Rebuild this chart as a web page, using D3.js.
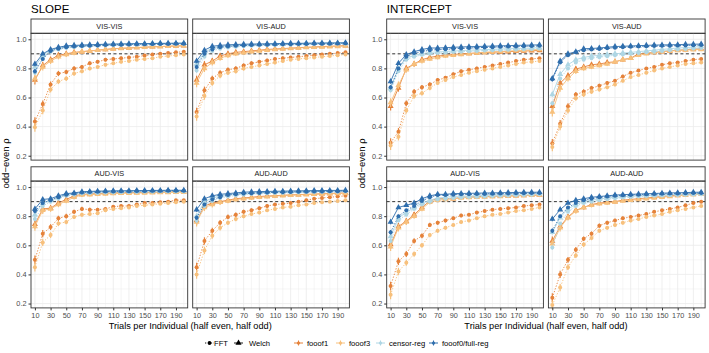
<!DOCTYPE html>
<html>
<head>
<meta charset="utf-8">
<script src="https://cdn.jsdelivr.net/npm/d3@7"></script>
<style>
  body { margin: 0; background: #fff; }
  svg { display: block; font-family: "Liberation Sans", Arial, Helvetica, sans-serif; }
</style>
</head>
<body>
<svg id="chart" width="709" height="353"></svg>
<script>
// ---- data ----
const trials = [10, 20, 30, 40, 50, 60, 70, 80, 90, 100, 110, 120, 130, 140, 150, 160, 170, 180, 190, 200];
const measures = ["SLOPE", "INTERCEPT"];
const conditions = ["VIS-VIS", "VIS-AUD", "AUD-VIS", "AUD-AUD"];
const methods = ["fooof1", "fooof3", "censor-reg", "fooof0/full-reg"];
const spectra = ["FFT", "Welch"];
const xTicks = [10, 30, 50, 70, 90, 110, 130, 150, 170, 190];
const yTicks = [0.2, 0.4, 0.6, 0.8, 1.0];
const refLine = 0.9;

// half-width of the error bars
const errWide = [0.03, 0.025, 0.02, 0.018, 0.016, 0.015, 0.014, 0.013, 0.012, 0.012, 0.011, 0.011, 0.01, 0.01, 0.01, 0.009, 0.009, 0.009, 0.008, 0.008];
const errNarrow = [0.015, 0.01, 0.008, 0.007, 0.006, 0.006, 0.005, 0.005, 0.005, 0.005, 0.005, 0.004, 0.004, 0.004, 0.004, 0.004, 0.004, 0.004, 0.004, 0.004];

// SLOPE  VIS-VIS
const sVV_f1_fft = [0.435, 0.555, 0.69, 0.765, 0.775, 0.8, 0.81, 0.835, 0.845, 0.86, 0.865, 0.87, 0.875, 0.88, 0.888, 0.895, 0.9, 0.905, 0.91, 0.915];
const sVV_f1_wel = [0.72, 0.82, 0.86, 0.89, 0.9, 0.91, 0.915, 0.92, 0.925, 0.93, 0.935, 0.938, 0.94, 0.943, 0.945, 0.948, 0.95, 0.952, 0.954, 0.955];
const sVV_f3_fft = [0.395, 0.51, 0.655, 0.71, 0.73, 0.765, 0.78, 0.8, 0.81, 0.825, 0.835, 0.845, 0.85, 0.86, 0.865, 0.87, 0.88, 0.885, 0.89, 0.895];
const sVV_f3_wel = [0.73, 0.81, 0.85, 0.88, 0.895, 0.905, 0.915, 0.92, 0.925, 0.93, 0.934, 0.937, 0.94, 0.943, 0.945, 0.948, 0.95, 0.952, 0.954, 0.956];
const sVV_cr_fft = [0.77, 0.87, 0.915, 0.93, 0.94, 0.945, 0.95, 0.953, 0.955, 0.957, 0.959, 0.961, 0.962, 0.963, 0.964, 0.965, 0.966, 0.967, 0.968, 0.968];
const sVV_cr_wel = [0.81, 0.89, 0.925, 0.94, 0.95, 0.955, 0.958, 0.96, 0.962, 0.964, 0.966, 0.967, 0.968, 0.969, 0.97, 0.971, 0.972, 0.972, 0.973, 0.974];
const sVV_f0_fft = [0.78, 0.865, 0.92, 0.935, 0.945, 0.95, 0.953, 0.956, 0.958, 0.96, 0.962, 0.963, 0.964, 0.965, 0.966, 0.967, 0.968, 0.968, 0.969, 0.97];
const sVV_f0_wel = [0.83, 0.9, 0.93, 0.945, 0.955, 0.958, 0.96, 0.962, 0.964, 0.966, 0.967, 0.968, 0.969, 0.97, 0.97, 0.971, 0.972, 0.972, 0.973, 0.973];

// SLOPE  VIS-AUD
const sVA_f1_fft = [0.5, 0.65, 0.73, 0.77, 0.79, 0.8, 0.82, 0.835, 0.845, 0.855, 0.865, 0.87, 0.875, 0.88, 0.885, 0.89, 0.895, 0.9, 0.905, 0.91];
const sVA_f1_wel = [0.72, 0.825, 0.85, 0.885, 0.9, 0.91, 0.915, 0.92, 0.925, 0.93, 0.933, 0.936, 0.939, 0.942, 0.945, 0.947, 0.95, 0.952, 0.954, 0.956];
const sVA_f3_fft = [0.47, 0.61, 0.7, 0.75, 0.77, 0.78, 0.8, 0.81, 0.82, 0.83, 0.84, 0.85, 0.86, 0.865, 0.87, 0.875, 0.88, 0.885, 0.89, 0.895];
const sVA_f3_wel = [0.7, 0.8, 0.84, 0.87, 0.888, 0.9, 0.907, 0.914, 0.92, 0.925, 0.93, 0.933, 0.936, 0.94, 0.943, 0.945, 0.947, 0.949, 0.951, 0.953];
const sVA_cr_fft = [0.785, 0.88, 0.92, 0.935, 0.943, 0.948, 0.952, 0.955, 0.957, 0.959, 0.961, 0.962, 0.963, 0.964, 0.965, 0.966, 0.967, 0.968, 0.969, 0.97];
const sVA_cr_wel = [0.83, 0.91, 0.94, 0.95, 0.955, 0.958, 0.96, 0.962, 0.964, 0.966, 0.967, 0.968, 0.969, 0.97, 0.971, 0.972, 0.973, 0.974, 0.975, 0.975];
const sVA_f0_fft = [0.81, 0.9, 0.93, 0.945, 0.95, 0.955, 0.958, 0.96, 0.962, 0.963, 0.964, 0.965, 0.966, 0.967, 0.968, 0.969, 0.97, 0.97, 0.971, 0.972];
const sVA_f0_wel = [0.85, 0.925, 0.952, 0.958, 0.962, 0.964, 0.966, 0.967, 0.968, 0.969, 0.97, 0.971, 0.972, 0.972, 0.973, 0.974, 0.974, 0.975, 0.975, 0.976];

// SLOPE  AUD-VIS
const sAV_f1_fft = [0.5, 0.68, 0.725, 0.785, 0.8, 0.83, 0.85, 0.845, 0.845, 0.85, 0.865, 0.87, 0.87, 0.88, 0.89, 0.89, 0.895, 0.9, 0.91, 0.91];
const sAV_f1_wel = [0.745, 0.85, 0.855, 0.89, 0.915, 0.94, 0.95, 0.953, 0.955, 0.958, 0.96, 0.961, 0.962, 0.963, 0.964, 0.965, 0.966, 0.967, 0.968, 0.969];
const sAV_f3_fft = [0.45, 0.62, 0.67, 0.75, 0.76, 0.795, 0.81, 0.815, 0.82, 0.84, 0.85, 0.855, 0.86, 0.87, 0.875, 0.88, 0.885, 0.89, 0.895, 0.9];
const sAV_f3_wel = [0.73, 0.84, 0.85, 0.88, 0.905, 0.93, 0.945, 0.948, 0.95, 0.953, 0.955, 0.957, 0.958, 0.959, 0.96, 0.961, 0.962, 0.963, 0.964, 0.965];
const sAV_cr_fft = [0.78, 0.87, 0.9, 0.92, 0.94, 0.948, 0.955, 0.958, 0.96, 0.962, 0.963, 0.964, 0.965, 0.966, 0.967, 0.968, 0.969, 0.969, 0.97, 0.97];
const sAV_cr_wel = [0.81, 0.89, 0.91, 0.93, 0.948, 0.955, 0.962, 0.965, 0.967, 0.968, 0.969, 0.97, 0.971, 0.972, 0.972, 0.973, 0.974, 0.974, 0.975, 0.975];
const sAV_f0_fft = [0.835, 0.89, 0.91, 0.93, 0.948, 0.955, 0.963, 0.966, 0.968, 0.969, 0.97, 0.971, 0.972, 0.973, 0.973, 0.974, 0.974, 0.975, 0.975, 0.975];
const sAV_f0_wel = [0.85, 0.915, 0.92, 0.94, 0.955, 0.96, 0.968, 0.97, 0.972, 0.973, 0.974, 0.975, 0.975, 0.976, 0.976, 0.977, 0.977, 0.978, 0.978, 0.978];

// SLOPE  AUD-AUD
const sAA_f1_fft = [0.45, 0.63, 0.7, 0.755, 0.795, 0.81, 0.83, 0.84, 0.855, 0.87, 0.88, 0.885, 0.89, 0.9, 0.91, 0.92, 0.925, 0.93, 0.935, 0.94];
const sAA_f1_wel = [0.77, 0.87, 0.89, 0.9, 0.91, 0.92, 0.925, 0.93, 0.935, 0.938, 0.941, 0.944, 0.946, 0.948, 0.95, 0.952, 0.954, 0.956, 0.958, 0.96];
const sAA_f3_fft = [0.4, 0.565, 0.665, 0.72, 0.755, 0.78, 0.8, 0.815, 0.825, 0.84, 0.85, 0.86, 0.865, 0.875, 0.88, 0.89, 0.895, 0.9, 0.905, 0.91];
const sAA_f3_wel = [0.76, 0.86, 0.88, 0.895, 0.905, 0.915, 0.92, 0.925, 0.93, 0.934, 0.938, 0.941, 0.944, 0.946, 0.948, 0.95, 0.952, 0.954, 0.956, 0.958];
const sAA_cr_fft = [0.77, 0.87, 0.905, 0.925, 0.935, 0.942, 0.948, 0.952, 0.955, 0.957, 0.959, 0.96, 0.962, 0.963, 0.964, 0.965, 0.966, 0.967, 0.968, 0.969];
const sAA_cr_wel = [0.8, 0.9, 0.925, 0.94, 0.948, 0.953, 0.957, 0.96, 0.962, 0.964, 0.966, 0.967, 0.968, 0.969, 0.97, 0.971, 0.972, 0.973, 0.974, 0.975];
const sAA_f0_fft = [0.79, 0.88, 0.915, 0.93, 0.945, 0.95, 0.955, 0.958, 0.96, 0.962, 0.964, 0.965, 0.966, 0.967, 0.968, 0.969, 0.97, 0.971, 0.972, 0.973];
const sAA_f0_wel = [0.845, 0.92, 0.94, 0.95, 0.955, 0.96, 0.965, 0.967, 0.969, 0.97, 0.971, 0.972, 0.973, 0.974, 0.975, 0.976, 0.976, 0.977, 0.977, 0.978];

// INTERCEPT  VIS-VIS
const iVV_f1_fft = [0.29, 0.365, 0.56, 0.64, 0.67, 0.69, 0.72, 0.735, 0.76, 0.78, 0.79, 0.8, 0.81, 0.82, 0.83, 0.84, 0.85, 0.86, 0.865, 0.87];
const iVV_f1_wel = [0.54, 0.665, 0.8, 0.83, 0.86, 0.875, 0.885, 0.89, 0.895, 0.9, 0.903, 0.906, 0.909, 0.911, 0.913, 0.915, 0.917, 0.919, 0.921, 0.923];
const iVV_f3_fft = [0.27, 0.33, 0.51, 0.61, 0.63, 0.665, 0.7, 0.72, 0.74, 0.755, 0.77, 0.78, 0.79, 0.8, 0.81, 0.82, 0.83, 0.84, 0.845, 0.85];
const iVV_f3_wel = [0.565, 0.685, 0.79, 0.83, 0.85, 0.865, 0.875, 0.885, 0.89, 0.895, 0.9, 0.905, 0.91, 0.913, 0.916, 0.919, 0.922, 0.925, 0.928, 0.93];
const iVV_cr_fft = [0.65, 0.78, 0.86, 0.88, 0.893, 0.9, 0.905, 0.908, 0.912, 0.915, 0.918, 0.92, 0.922, 0.924, 0.926, 0.928, 0.93, 0.932, 0.934, 0.936];
const iVV_cr_wel = [0.665, 0.8, 0.87, 0.89, 0.9, 0.91, 0.913, 0.916, 0.919, 0.922, 0.925, 0.927, 0.929, 0.931, 0.933, 0.935, 0.937, 0.938, 0.94, 0.942];
const iVV_f0_fft = [0.67, 0.8, 0.88, 0.905, 0.915, 0.925, 0.928, 0.931, 0.934, 0.937, 0.94, 0.942, 0.944, 0.946, 0.948, 0.95, 0.951, 0.952, 0.953, 0.955];
const iVV_f0_wel = [0.71, 0.835, 0.895, 0.915, 0.93, 0.94, 0.94, 0.942, 0.945, 0.947, 0.949, 0.95, 0.952, 0.953, 0.955, 0.956, 0.958, 0.959, 0.96, 0.962];

// INTERCEPT  VIS-AUD
const iVA_f1_fft = [0.285, 0.42, 0.54, 0.62, 0.64, 0.665, 0.68, 0.7, 0.715, 0.745, 0.77, 0.785, 0.8, 0.81, 0.825, 0.835, 0.84, 0.85, 0.86, 0.865];
const iVA_f1_wel = [0.54, 0.7, 0.75, 0.795, 0.81, 0.825, 0.83, 0.84, 0.845, 0.86, 0.87, 0.9, 0.905, 0.91, 0.915, 0.92, 0.925, 0.928, 0.932, 0.935];
const iVA_f3_fft = [0.26, 0.4, 0.51, 0.595, 0.62, 0.64, 0.655, 0.67, 0.69, 0.715, 0.74, 0.755, 0.77, 0.785, 0.8, 0.81, 0.82, 0.83, 0.835, 0.84];
const iVA_f3_wel = [0.5, 0.665, 0.73, 0.78, 0.8, 0.81, 0.82, 0.83, 0.845, 0.86, 0.87, 0.89, 0.9, 0.91, 0.915, 0.92, 0.923, 0.926, 0.928, 0.93];
const iVA_cr_fft = [0.56, 0.73, 0.8, 0.84, 0.86, 0.87, 0.877, 0.884, 0.89, 0.895, 0.9, 0.905, 0.91, 0.915, 0.92, 0.925, 0.93, 0.933, 0.936, 0.94];
const iVA_cr_wel = [0.62, 0.76, 0.825, 0.86, 0.875, 0.885, 0.89, 0.895, 0.9, 0.905, 0.91, 0.915, 0.92, 0.925, 0.93, 0.935, 0.94, 0.943, 0.946, 0.95];
const iVA_f0_fft = [0.725, 0.84, 0.89, 0.91, 0.925, 0.93, 0.934, 0.938, 0.942, 0.945, 0.948, 0.95, 0.952, 0.954, 0.955, 0.956, 0.957, 0.958, 0.959, 0.96];
const iVA_f0_wel = [0.73, 0.85, 0.9, 0.915, 0.935, 0.937, 0.94, 0.945, 0.95, 0.952, 0.954, 0.956, 0.958, 0.96, 0.961, 0.962, 0.963, 0.965, 0.966, 0.967];

// INTERCEPT  AUD-VIS
const iAV_f1_fft = [0.32, 0.49, 0.54, 0.63, 0.665, 0.74, 0.755, 0.77, 0.785, 0.805, 0.81, 0.825, 0.835, 0.845, 0.85, 0.855, 0.86, 0.87, 0.875, 0.88];
const iAV_f1_wel = [0.605, 0.73, 0.765, 0.81, 0.86, 0.905, 0.92, 0.92, 0.92, 0.93, 0.932, 0.934, 0.936, 0.937, 0.938, 0.939, 0.94, 0.942, 0.944, 0.945];
const iAV_f3_fft = [0.26, 0.42, 0.48, 0.54, 0.6, 0.67, 0.7, 0.72, 0.74, 0.76, 0.77, 0.785, 0.8, 0.81, 0.815, 0.825, 0.835, 0.84, 0.85, 0.86];
const iAV_f3_wel = [0.59, 0.72, 0.76, 0.8, 0.85, 0.895, 0.91, 0.915, 0.92, 0.925, 0.928, 0.93, 0.932, 0.934, 0.936, 0.938, 0.94, 0.942, 0.944, 0.945];
const iAV_cr_fft = [0.63, 0.77, 0.81, 0.85, 0.88, 0.9, 0.915, 0.92, 0.925, 0.928, 0.931, 0.934, 0.936, 0.938, 0.94, 0.942, 0.944, 0.946, 0.948, 0.95];
const iAV_cr_wel = [0.66, 0.79, 0.825, 0.86, 0.89, 0.91, 0.925, 0.93, 0.935, 0.937, 0.939, 0.941, 0.943, 0.945, 0.947, 0.949, 0.951, 0.952, 0.954, 0.955];
const iAV_f0_fft = [0.69, 0.8, 0.84, 0.87, 0.905, 0.93, 0.945, 0.945, 0.948, 0.95, 0.951, 0.952, 0.953, 0.954, 0.955, 0.956, 0.957, 0.958, 0.959, 0.96];
const iAV_f0_wel = [0.76, 0.86, 0.875, 0.89, 0.92, 0.94, 0.95, 0.95, 0.955, 0.956, 0.957, 0.958, 0.959, 0.96, 0.961, 0.962, 0.963, 0.964, 0.964, 0.965];

// INTERCEPT  AUD-AUD
const iAA_f1_fft = [0.24, 0.4, 0.5, 0.57, 0.645, 0.68, 0.735, 0.755, 0.77, 0.785, 0.795, 0.805, 0.815, 0.83, 0.84, 0.85, 0.86, 0.875, 0.89, 0.9];
const iAA_f1_wel = [0.63, 0.73, 0.795, 0.84, 0.86, 0.88, 0.89, 0.895, 0.9, 0.91, 0.915, 0.92, 0.925, 0.93, 0.935, 0.94, 0.944, 0.948, 0.952, 0.955];
const iAA_f3_fft = [0.19, 0.31, 0.45, 0.53, 0.605, 0.65, 0.7, 0.72, 0.74, 0.755, 0.77, 0.78, 0.795, 0.805, 0.815, 0.83, 0.84, 0.85, 0.86, 0.87];
const iAA_f3_wel = [0.61, 0.72, 0.79, 0.835, 0.86, 0.875, 0.885, 0.89, 0.897, 0.905, 0.91, 0.915, 0.92, 0.925, 0.93, 0.935, 0.94, 0.944, 0.948, 0.95];
const iAA_cr_fft = [0.585, 0.75, 0.83, 0.87, 0.89, 0.9, 0.91, 0.917, 0.923, 0.928, 0.932, 0.935, 0.938, 0.94, 0.942, 0.944, 0.946, 0.947, 0.949, 0.95];
const iAA_cr_wel = [0.69, 0.79, 0.85, 0.88, 0.9, 0.91, 0.918, 0.925, 0.93, 0.934, 0.937, 0.94, 0.942, 0.944, 0.946, 0.948, 0.95, 0.952, 0.954, 0.955];
const iAA_f0_fft = [0.7, 0.8, 0.86, 0.89, 0.91, 0.92, 0.93, 0.935, 0.94, 0.943, 0.946, 0.948, 0.95, 0.952, 0.954, 0.955, 0.956, 0.958, 0.959, 0.96];
const iAA_f0_wel = [0.78, 0.845, 0.89, 0.91, 0.92, 0.93, 0.935, 0.94, 0.945, 0.948, 0.95, 0.952, 0.954, 0.956, 0.958, 0.96, 0.961, 0.962, 0.964, 0.965];

// lookup: measure -> condition -> [method][spectrum]
const table = {
  SLOPE: {
    "VIS-VIS": [[sVV_f1_fft, sVV_f1_wel], [sVV_f3_fft, sVV_f3_wel], [sVV_cr_fft, sVV_cr_wel], [sVV_f0_fft, sVV_f0_wel]],
    "VIS-AUD": [[sVA_f1_fft, sVA_f1_wel], [sVA_f3_fft, sVA_f3_wel], [sVA_cr_fft, sVA_cr_wel], [sVA_f0_fft, sVA_f0_wel]],
    "AUD-VIS": [[sAV_f1_fft, sAV_f1_wel], [sAV_f3_fft, sAV_f3_wel], [sAV_cr_fft, sAV_cr_wel], [sAV_f0_fft, sAV_f0_wel]],
    "AUD-AUD": [[sAA_f1_fft, sAA_f1_wel], [sAA_f3_fft, sAA_f3_wel], [sAA_cr_fft, sAA_cr_wel], [sAA_f0_fft, sAA_f0_wel]]
  },
  INTERCEPT: {
    "VIS-VIS": [[iVV_f1_fft, iVV_f1_wel], [iVV_f3_fft, iVV_f3_wel], [iVV_cr_fft, iVV_cr_wel], [iVV_f0_fft, iVV_f0_wel]],
    "VIS-AUD": [[iVA_f1_fft, iVA_f1_wel], [iVA_f3_fft, iVA_f3_wel], [iVA_cr_fft, iVA_cr_wel], [iVA_f0_fft, iVA_f0_wel]],
    "AUD-VIS": [[iAV_f1_fft, iAV_f1_wel], [iAV_f3_fft, iAV_f3_wel], [iAV_cr_fft, iAV_cr_wel], [iAV_f0_fft, iAV_f0_wel]],
    "AUD-AUD": [[iAA_f1_fft, iAA_f1_wel], [iAA_f3_fft, iAA_f3_wel], [iAA_cr_fft, iAA_cr_wel], [iAA_f0_fft, iAA_f0_wel]]
  }
};

// ---- styling ----
const methodColors = ["#E5823A", "#F7C07C", "#AED6E4", "#2F6EAD"];
const methodErr = [errWide, errWide, errNarrow, errNarrow];

const groupLeft = [31, 386.7];
const panelW = 156.7;
const colGap = 5;
const rowTop = [19, 166.8];
const stripH = 14.3;
const plotH = 126.8;

const svg = d3.select("#chart");

const x = d3.scaleLinear().domain([5, 205]).range([0, panelW]);
const y = d3.scaleLinear().domain([0.170, 1.041]).range([plotH, 0]);

const xGrid = d3.range(10, 201, 10);
const yGrid = d3.range(0.2, 1.01, 0.1);

const symTri = d3.symbol().type(d3.symbolTriangle).size(16);

measures.forEach((m, gi) => {
  const gx = groupLeft[gi];

  // group title
  svg.append("text")
    .attr("x", gx).attr("y", 12.5)
    .attr("font-size", 11.5).attr("fill", "#000")
    .text(m);

  // y axis title
  svg.append("text")
    .attr("transform", `translate(${gx - 22},${(rowTop[0] + rowTop[1] + stripH + plotH) / 2}) rotate(-90)`)
    .attr("text-anchor", "middle")
    .attr("font-size", 9.5)
    .text("odd\u2212even \u03c1");

  // x axis title
  svg.append("text")
    .attr("x", gx + panelW + colGap / 2).attr("y", 329)
    .attr("text-anchor", "middle")
    .attr("font-size", 9.2)
    .text("Trials per Individual (half even, half odd)");

  conditions.forEach((c, ci) => {
    const col = ci % 2, row = Math.floor(ci / 2);
    const px = gx + col * (panelW + colGap);
    const sy = rowTop[row];
    const py = sy + stripH;

    // strip
    svg.append("rect")
      .attr("x", px).attr("y", sy)
      .attr("width", panelW).attr("height", stripH)
      .attr("fill", "#fff").attr("stroke", "#333").attr("stroke-width", 0.9);
    svg.append("text")
      .attr("x", px + panelW / 2).attr("y", sy + stripH / 2)
      .attr("text-anchor", "middle").attr("dominant-baseline", "central")
      .attr("font-size", 7.3).attr("fill", "#1a1a1a")
      .text(c);

    const g = svg.append("g").attr("transform", `translate(${px},${py})`);

    // grid
    g.selectAll(".gx").data(xGrid).enter().append("line")
      .attr("x1", d => x(d)).attr("x2", d => x(d))
      .attr("y1", 0).attr("y2", plotH)
      .attr("stroke", "#EBEBEB").attr("stroke-width", (d, i) => i % 2 === 0 ? 0.8 : 0.45);
    g.selectAll(".gy").data(yGrid).enter().append("line")
      .attr("x1", 0).attr("x2", panelW)
      .attr("y1", d => y(d)).attr("y2", d => y(d))
      .attr("stroke", "#EBEBEB").attr("stroke-width", (d, i) => i % 2 === 0 ? 0.8 : 0.45);

    // reference line
    g.append("line")
      .attr("x1", 0).attr("x2", panelW)
      .attr("y1", y(refLine)).attr("y2", y(refLine))
      .attr("stroke", "#000").attr("stroke-width", 0.8)
      .attr("stroke-dasharray", "3,2.5");

    const series = table[m][c];
    const line = d3.line().x((d, i) => x(trials[i])).y(d => y(d));

    methods.forEach((meth, mi) => {
      const col2 = methodColors[mi];
      const err = methodErr[mi];
      spectra.forEach((sp, si) => {
        const vals = series[mi][si];
        const sg = g.append("g");
        sg.append("path")
          .attr("d", line(vals))
          .attr("fill", "none")
          .attr("stroke", col2)
          .attr("stroke-width", 0.9)
          .attr("stroke-dasharray", sp === "FFT" ? "1.3,1.6" : null);
        sg.selectAll(".eb").data(vals).enter().append("line")
          .attr("x1", (d, i) => x(trials[i])).attr("x2", (d, i) => x(trials[i]))
          .attr("y1", (d, i) => y(d - err[i])).attr("y2", (d, i) => y(d + err[i]))
          .attr("stroke", col2).attr("stroke-width", 1.2);
        if (sp === "FFT") {
          sg.selectAll(".pt").data(vals).enter().append("circle")
            .attr("cx", (d, i) => x(trials[i])).attr("cy", d => y(d))
            .attr("r", 2).attr("fill", col2);
        } else {
          sg.selectAll(".pt").data(vals).enter().append("path")
            .attr("d", symTri)
            .attr("transform", (d, i) => `translate(${x(trials[i])},${y(d)})`)
            .attr("fill", col2);
        }
      });
    });

    // panel border
    g.append("rect")
      .attr("width", panelW).attr("height", plotH)
      .attr("fill", "none").attr("stroke", "#333").attr("stroke-width", 0.9);

    // y axis on left column
    if (col === 0) {
      const ya = g.append("g").call(d3.axisLeft(y).tickValues(yTicks).tickFormat(d3.format(".1f")).tickSize(2.5).tickPadding(2));
      ya.select(".domain").remove();
      ya.selectAll("line").attr("stroke", "#333");
      ya.selectAll("text").attr("font-size", 7.3).attr("fill", "#4D4D4D").attr("font-family", null);
    }
    // x axis on bottom row
    if (row === 1) {
      const xa = g.append("g").attr("transform", `translate(0,${plotH})`)
        .call(d3.axisBottom(x).tickValues(xTicks).tickSize(2.5).tickPadding(2));
      xa.select(".domain").remove();
      xa.selectAll("line").attr("stroke", "#333");
      xa.selectAll("text").attr("font-size", 7.3).attr("fill", "#4D4D4D").attr("font-family", null);
    }
  });
});

// ---- legend ----
const leg = svg.append("g").attr("transform", "translate(0,343)");
const legFont = 7.6;

// linetype keys
[["FFT", 205, 214], ["Welch", 234, 249]].forEach(([lab, kx, tx]) => {
  leg.append("line").attr("x1", kx).attr("x2", kx + 9).attr("y1", 0).attr("y2", 0)
    .attr("stroke", "#000").attr("stroke-width", 0.9)
    .attr("stroke-dasharray", lab === "FFT" ? "1.3,1.6" : null);
  if (lab === "FFT") {
    leg.append("circle").attr("cx", kx + 4.5).attr("cy", 0).attr("r", 1.9).attr("fill", "#000");
  } else {
    leg.append("path").attr("d", symTri).attr("transform", `translate(${kx + 4.5},0)`).attr("fill", "#000");
  }
  leg.append("text").attr("x", tx).attr("y", 0).attr("dominant-baseline", "central")
    .attr("font-size", legFont).text(lab);
});

// method keys
const methodKeyX = [294, 336, 376, 429];
methods.forEach((meth, mi) => {
  const kx = methodKeyX[mi];
  const col2 = methodColors[mi];
  leg.append("line").attr("x1", kx).attr("x2", kx + 9).attr("y1", 0).attr("y2", 0)
    .attr("stroke", col2).attr("stroke-width", 1);
  leg.append("line").attr("x1", kx + 4.5).attr("x2", kx + 4.5).attr("y1", -2.5).attr("y2", 2.5)
    .attr("stroke", col2).attr("stroke-width", 1.1);
  leg.append("circle").attr("cx", kx + 4.5).attr("cy", 0).attr("r", 1.6).attr("fill", col2);
  leg.append("text").attr("x", kx + 13).attr("y", 0).attr("dominant-baseline", "central")
    .attr("font-size", legFont).text(meth);
});
</script>
</body>
</html>
